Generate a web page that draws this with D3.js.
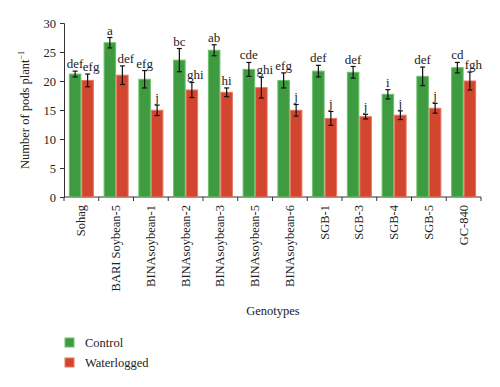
<!DOCTYPE html>
<html>
<head>
<meta charset="utf-8">
<script src="https://cdn.jsdelivr.net/npm/d3@7"></script>
<style>
  body { margin: 0; background: #fff; }
  text { font-family: "Liberation Serif", "DejaVu Serif", serif; fill: #222; }
</style>
</head>
<body>
<div id="container"></div>
<script>
// genotypes on the x axis
const genotypes = ["Sohag", "BARI Soybean-5", "BINAsoybean-1", "BINAsoybean-2", "BINAsoybean-3",
    "BINAsoybean-5", "BINAsoybean-6", "SGB-1", "SGB-3", "SGB-4", "SGB-5", "GC-840"];

// mean pods per plant, and error bar half lengths
const control = [21.2, 26.6, 20.3, 23.6, 25.3, 22.0, 20.1, 21.7, 21.5, 17.7, 20.8, 22.3];
const controlErr = [0.5, 0.9, 1.5, 2.0, 0.95, 1.2, 1.3, 1.0, 1.0, 0.8, 1.6, 0.9];
const waterlogged = [20.1, 21.0, 14.95, 18.45, 18.05, 18.85, 14.95, 13.55, 13.85, 14.1, 15.3, 20.0];
const waterloggedErr = [1.1, 1.6, 0.9, 1.3, 0.75, 1.8, 1.0, 1.2, 0.4, 0.75, 0.85, 1.55];

// significance letters
const controlLetters = ["def", "a", "efg", "bc", "ab", "cde", "efg", "def", "def", "i", "def", "cd"];
const waterloggedLetters = ["efg", "def", "j", "ghi", "hi", "ghi", "j", "j", "j", "j", "j", "fgh"];

const yTicks = [0, 5, 10, 15, 20, 25, 30];
const seriesNames = ["Control", "Waterlogged"];

const width = 500;
const height = 387;
const plotLeft = 64, plotRight = 481, plotTop = 23, plotBottom = 197;

const green = "#3f9b40";
const red = "#d2452f";

const svg = d3.select("#container")
    .append("svg")
    .attr("width", width)
    .attr("height", height);

const x = d3.scaleBand()
    .domain(genotypes)
    .range([plotLeft, plotRight])
    .paddingInner(0.28)
    .paddingOuter(0.14);

const x1 = d3.scaleBand()
    .domain(seriesNames)
    .range([0, x.bandwidth()]);

const y = d3.scaleLinear()
    .domain([0, 30])
    .range([plotBottom, plotTop]);

// y axis
const yAxis = svg.append("g")
    .attr("transform", `translate(${plotLeft},0)`)
    .call(d3.axisLeft(y).tickValues(yTicks).tickSize(4).tickPadding(4));
yAxis.selectAll("text").style("font-size", "12.5px").attr("fill", "#222");
yAxis.selectAll("line, path").attr("stroke", "#333");

// x axis: ticks at band boundaries
const boundaries = d3.range(genotypes.length + 1)
    .map(i => plotLeft + i * (plotRight - plotLeft) / genotypes.length);
svg.append("line")
    .attr("x1", plotLeft).attr("x2", plotRight)
    .attr("y1", plotBottom).attr("y2", plotBottom)
    .attr("stroke", "#333");
svg.selectAll(".xtick")
    .data(boundaries)
    .join("line")
    .attr("x1", d => d).attr("x2", d => d)
    .attr("y1", plotBottom).attr("y2", plotBottom + 4)
    .attr("stroke", "#333");

svg.selectAll(".xlabel")
    .data(genotypes)
    .join("text")
    .attr("transform", d => `translate(${x(d) + x.bandwidth() / 2 + 4},${plotBottom + 8}) rotate(-90)`)
    .attr("text-anchor", "end")
    .style("font-size", "12.5px")
    .text(d => d);

// bars, error bars and letters for each series
const series = [
    { name: "Control", values: control, err: controlErr, letters: controlLetters, color: green, stroke: "#6cc06b" },
    { name: "Waterlogged", values: waterlogged, err: waterloggedErr, letters: waterloggedLetters, color: red, stroke: "#e57862" }
];

series.forEach((s, si) => {
    const g = svg.append("g");
    const bw = x1.bandwidth();
    genotypes.forEach((gen, i) => {
        const bx = x(gen) + x1(s.name);
        const cx = bx + bw / 2;
        g.append("rect")
            .attr("x", bx + 0.5)
            .attr("y", y(s.values[i]))
            .attr("width", bw - 1)
            .attr("height", plotBottom - y(s.values[i]))
            .attr("fill", s.color)
            .attr("stroke", s.stroke)
            .attr("stroke-width", 1);

        const hi = y(s.values[i] + s.err[i]);
        const lo = y(s.values[i] - s.err[i]);
        g.append("line")
            .attr("x1", cx).attr("x2", cx)
            .attr("y1", hi).attr("y2", lo)
            .attr("stroke", "#111").attr("stroke-width", 1.2);
        [hi, lo].forEach(v => {
            g.append("line")
                .attr("x1", cx - 2.5).attr("x2", cx + 2.5)
                .attr("y1", v).attr("y2", v)
                .attr("stroke", "#111").attr("stroke-width", 1.2);
        });

        // long waterlogged letters are nudged right so they clear the control letters
        const nudge = (si === 1 && s.letters[i].length >= 3) ? 3.5 : 0;
        g.append("text")
            .attr("x", cx + nudge)
            .attr("y", hi - 3)
            .attr("text-anchor", "middle")
            .style("font-size", "13px")
            .text(s.letters[i]);
    });
});

// y axis title
svg.append("text")
    .attr("transform", `translate(29,${(plotTop + plotBottom) / 2}) rotate(-90)`)
    .attr("text-anchor", "middle")
    .style("font-size", "12.5px")
    .html('Number of pods plant<tspan dy="-5" style="font-size:8px">\u22121</tspan>');

// x axis title
svg.append("text")
    .attr("x", 273)
    .attr("y", 315)
    .attr("text-anchor", "middle")
    .style("font-size", "12.5px")
    .text("Genotypes");

// legend
const legend = svg.append("g").attr("transform", "translate(65,338)");
series.forEach((s, i) => {
    legend.append("rect")
        .attr("x", 0).attr("y", i * 20)
        .attr("width", 9).attr("height", 9)
        .attr("fill", s.color)
        .attr("stroke", s.stroke);
    legend.append("text")
        .attr("x", 20).attr("y", i * 20 + 9)
        .style("font-size", "12.5px")
        .text(s.name);
});
</script>
</body>
</html>
